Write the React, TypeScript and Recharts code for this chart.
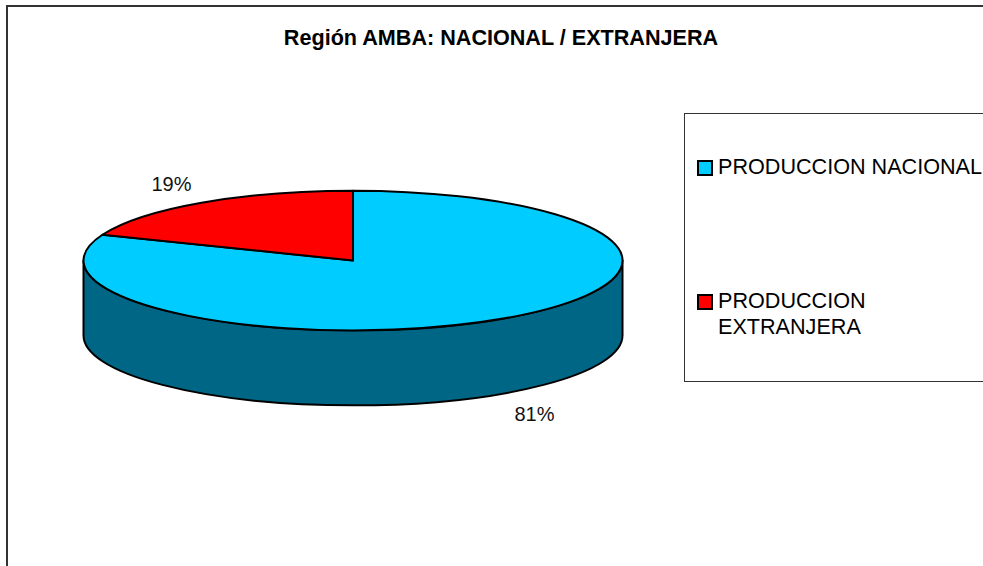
import React from 'react';
import { PieChart, Pie, Legend } from 'recharts';

const categories = ['PRODUCCION NACIONAL', 'PRODUCCION EXTRANJERA'];
const shares = [81, 19];
const colors = ['#00CCFF', '#FF0000'];
const sideColors = ['#006685', '#800000'];

const FONT = '"Liberation Sans", Arial, sans-serif';
const TILT = 70 / 270; // ellipse ry / rx
const DEPTH = 75;
const RAD = Math.PI / 180;

const chartData = categories.map((name, i) => ({
  name,
  value: shares[i],
  fill: colors[i],
  side: sideColors[i],
}));

const px = (cx: number, rx: number, angle: number) => cx + rx * Math.cos(angle * RAD);
const py = (cy: number, ry: number, angle: number) => cy - ry * Math.sin(angle * RAD);

// Recharts hands us the angles; we just squash the sector into an ellipse and add the wall
function Sector3D(props: any) {
  const { cx, cy, outerRadius, startAngle, endAngle, fill, side } = props;
  const rx = outerRadius;
  const ry = outerRadius * TILT;
  const a0 = Math.max(startAngle, endAngle);
  const a1 = Math.min(startAngle, endAngle);
  const sweepLarge = a0 - a1 > 180 ? 1 : 0;
  const top = `M${cx},${cy} L${px(cx, rx, a0)},${py(cy, ry, a0)} A${rx},${ry} 0 ${sweepLarge} 1 ${px(cx, rx, a1)},${py(cy, ry, a1)} Z`;

  // wall only shows on the front half (angles 0 to -180)
  const w0 = Math.min(a0, 0);
  const w1 = Math.max(a1, -180);
  let wall = null;
  if (w0 > w1) {
    const x0 = px(cx, rx, w0);
    const y0 = py(cy, ry, w0);
    const x1 = px(cx, rx, w1);
    const y1 = py(cy, ry, w1);
    wall = (
      <path
        d={`M${x0},${y0} A${rx},${ry} 0 0 1 ${x1},${y1} L${x1},${y1 + DEPTH} A${rx},${ry} 0 0 0 ${x0},${y0 + DEPTH} Z`}
        fill={side}
        stroke="#000"
        strokeWidth={2}
        strokeLinejoin="round"
      />
    );
  }

  return (
    <g>
      {wall}
      <path d={top} fill={fill} stroke="#000" strokeWidth={2} strokeLinejoin="round" />
    </g>
  );
}

const renderLabel = (props: any) => {
  const { cx, cy, outerRadius, midAngle, percent } = props;
  const rx = outerRadius;
  const ry = outerRadius * TILT;
  const dirX = Math.cos(midAngle * RAD) >= 0 ? 1 : -1;
  const front = Math.sin(midAngle * RAD) < 0;
  const x = px(cx, rx, midAngle) + dirX * 30;
  const y = py(cy, ry, midAngle) + (front ? DEPTH + 21 : -19);
  return (
    <text x={x} y={y} textAnchor="middle" dominantBaseline="central" fontFamily={FONT} fontSize={20} fill="#111">
      {`${Math.round(percent * 100)}%`}
    </text>
  );
};

const renderLegend = (props: any) => {
  const items = props.payload || [];
  return (
    <div style={{ position: 'relative', width: '100%', height: '100%' }}>
      {items.map((item: any, i: number) => (
        <div
          key={item.value}
          style={{ position: 'absolute', left: 12, top: i === 0 ? 40 : 174, display: 'flex', alignItems: 'flex-start' }}
        >
          <span
            style={{
              width: 12,
              height: 12,
              marginTop: 6,
              marginRight: 5,
              border: '2px solid #000',
              background: item.color,
              flex: 'none',
            }}
          />
          <span style={{ width: 272, fontFamily: FONT, fontSize: 21.6, lineHeight: '26px', color: '#000' }}>
            {item.value}
          </span>
        </div>
      ))}
    </div>
  );
};

export default function App() {
  return (
    <div style={{ position: 'absolute', left: 0, top: 0, width: 983, height: 566, overflow: 'hidden', background: '#fff' }}>
      <PieChart width={983} height={566} margin={{ top: 0, right: 0, bottom: 0, left: 0 }}>
        <rect x={7} y={6} width={1200} height={1000} fill="none" stroke="#333" strokeWidth={2} />
        <text x={501} y={37} textAnchor="middle" dominantBaseline="central" fontFamily={FONT} fontSize={21.6} fontWeight="bold" fill="#000">
          Región AMBA: NACIONAL / EXTRANJERA
        </text>
        <Pie
          data={chartData}
          dataKey="value"
          nameKey="name"
          cx={353}
          cy={260.5}
          outerRadius={269.5}
          startAngle={90}
          endAngle={-270}
          paddingAngle={0}
          shape={Sector3D}
          label={renderLabel}
          labelLine={false}
          isAnimationActive={false}
        />
        <Legend
          content={renderLegend}
          itemSorter={null}
          wrapperStyle={{
            position: 'absolute',
            left: 684,
            top: 113,
            bottom: 'auto',
            width: 340,
            height: 269,
            border: '1px solid #333',
            boxSizing: 'border-box',
            background: '#fff',
          }}
        />
      </PieChart>
    </div>
  );
}
